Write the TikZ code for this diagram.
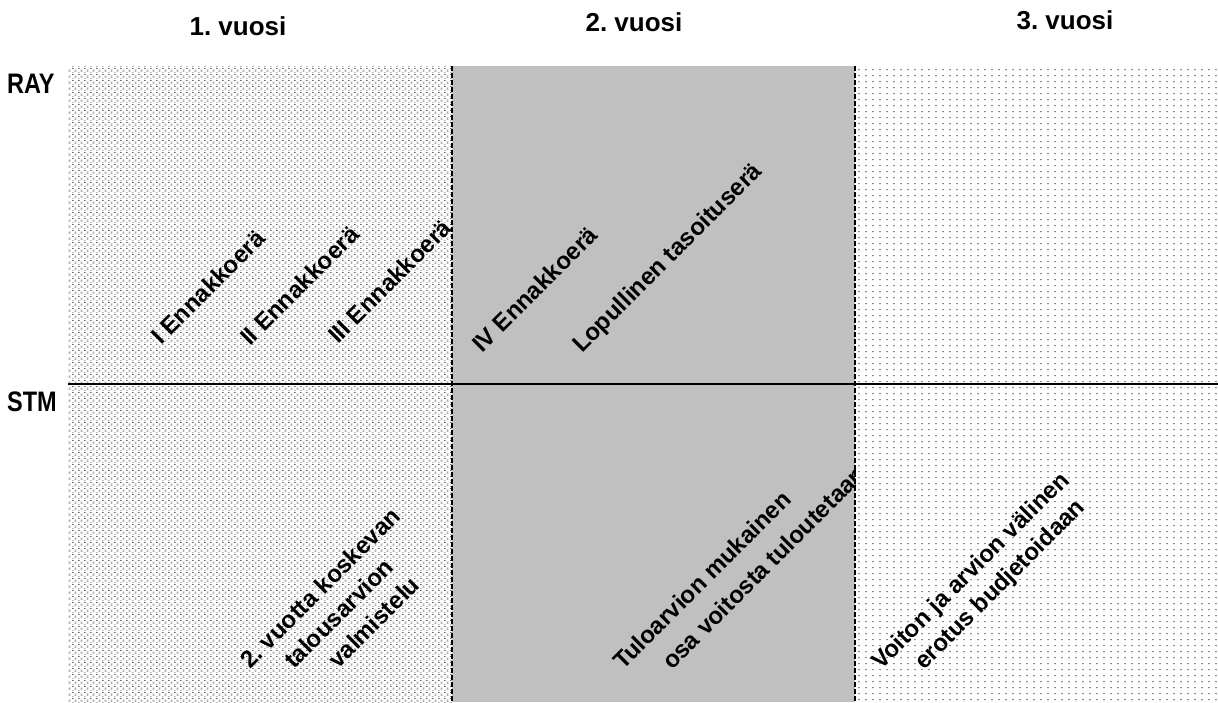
\documentclass[tikz,border=0pt]{standalone}
\usepackage{fontspec}
\setmainfont{Liberation Sans}
\usetikzlibrary{patterns}
\definecolor{panelgray}{HTML}{C0C0C0}
\definecolor{dashgray}{HTML}{8C8C8C}
\pgfdeclarepatterninherentlycolored{dotgrid}{\pgfpointorigin}{\pgfpoint{6pt}{6pt}}{\pgfpoint{6pt}{6pt}}{%
  \pgfsetfillcolor{black}%
  \pgfpathrectangle{\pgfpoint{0.5pt}{4.8pt}}{\pgfpoint{1pt}{1pt}}%
  \pgfusepath{fill}%
  \pgfsetfillcolor{dashgray}%
  \pgfpathrectangle{\pgfpoint{3pt}{3.2pt}}{\pgfpoint{2pt}{0.8pt}}%
  \pgfpathrectangle{\pgfpoint{3pt}{1.6pt}}{\pgfpoint{2pt}{0.8pt}}%
  \pgfpathrectangle{\pgfpoint{0pt}{0.1pt}}{\pgfpoint{2pt}{0.7pt}}%
  \pgfusepath{fill}%
}
\pgfdeclarepatterninherentlycolored{dashgrid}{\pgfpointorigin}{\pgfpoint{6.5pt}{5.8pt}}{\pgfpoint{6.5pt}{5.8pt}}{%
  \pgfsetfillcolor{dashgray}%
  \pgfpathrectangle{\pgfpoint{0pt}{2pt}}{\pgfpoint{2pt}{1pt}}%
  \pgfusepath{fill}%
}
\frenchspacing
\begin{document}
\begin{tikzpicture}[x=1pt,y=-1pt,
  head/.style={font=\bfseries\fontsize{26}{30}\selectfont, inner sep=0pt, anchor=base},
  rowlbl/.style={font=\bfseries\fontsize{23.5}{28}\selectfont, inner sep=0pt, anchor=base west},
  lbl/.style={font=\bfseries\fontsize{24}{29}\selectfont, inner sep=0pt, rotate=45, anchor=base west},
  divider/.style={line width=2.5pt, black},
  yearline/.style={line width=2.5pt, black, dash pattern=on 5pt off 2pt}]
\useasboundingbox (0,0) rectangle (1218,702);
\fill[white] (0,0) rectangle (1218,702);
% panels
\fill[pattern=dotgrid] (68,66) rectangle (452,702);
\fill[panelgray] (452,66) rectangle (855,702);
\fill[pattern=dashgrid] (855,66) rectangle (1218,702);
% headers
\node[head] (y1) at (238,35) {1. vuosi};
\node[head] (y2) at (634,31) {2. vuosi};
\node[head] (y3) at (1065,29) {3. vuosi};
\node[rowlbl] (ray) at (7,93) {\scalebox{1}[1.2]{RAY}};
\node[rowlbl] (stm) at (7,411) {\scalebox{1}[1.2]{STM}};
% RAY labels
\node[lbl] (e1) at (161,346) {I Ennakkoerä};
\node[lbl] (e2) at (250,347) {II Ennakkoerä};
\node[lbl] (e3) at (338,345) {III Ennakkoerä};
\node[lbl] (e4) at (482,354) {IV Ennakkoerä};
\node[lbl] (tas) at (582,354) {Lopullinen tasoituserä};
% STM labels
\node[lbl] (b1) at (250,670) {2. vuotta koskevan};
\node[lbl] (b2) at (294,670) {talousarvion};
\node[lbl] (b3) at (338,670) {valmistelu};
\begin{scope}
\clip (452,66) rectangle (855,702);
\node[lbl] (t1) at (623,671) {Tuloarvion mukainen};
\node[lbl] (t2) at (672,671) {osa voitosta tuloutetaan};
\end{scope}
\node[lbl] (v1) at (881,671) {Voiton ja arvion välinen};
\node[lbl] (v2) at (924,671) {erotus budjetoidaan};
% lines
\coordinate (hl) at (68,384);
\coordinate (hr) at (1218,384);
\coordinate (a1) at (452,66);
\coordinate (a2) at (452,702);
\coordinate (c1) at (855,66);
\coordinate (c2) at (855,702);
\draw[divider] (hl) -- (hr);
\draw[yearline] (a1) -- (a2);
\draw[yearline] (c1) -- (c2);
\end{tikzpicture}
\end{document}
